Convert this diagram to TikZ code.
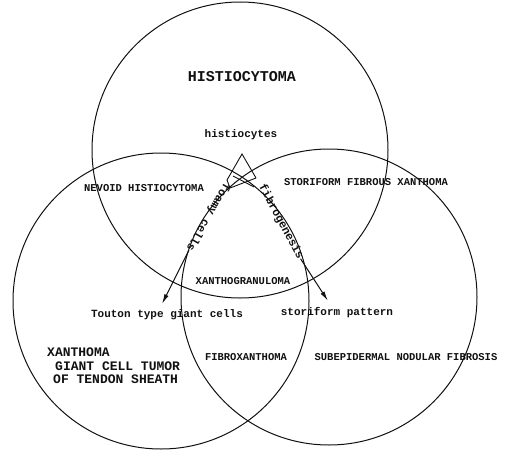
\documentclass[tikz,border=0pt]{standalone}
\usepackage{fontspec}
\setmonofont{Liberation Mono}
\usetikzlibrary{positioning,arrows.meta,calc}
\definecolor{cInk}{HTML}{111111}
\tikzset{
  ring/.style={draw=cInk, line width=1pt},
  titleLbl/.style={font=\ttfamily\bfseries\fontsize{15}{17}\selectfont, text=cInk, inner sep=0pt},
  zoneLbl/.style={font=\ttfamily\bfseries\fontsize{10.5}{12}\selectfont, text=cInk, inner sep=0pt},
  cellLbl/.style={font=\ttfamily\bfseries\fontsize{11}{13}\selectfont, text=cInk, inner sep=0pt},
  bigLbl/.style={font=\ttfamily\bfseries\fontsize{13}{15}\selectfont, text=cInk, inner sep=0pt, anchor=west},
  pathLbl/.style={font=\ttfamily\bfseries\fontsize{11.5}{13}\selectfont, text=cInk, inner sep=0pt},
  flow/.style={-{Latex[length=10pt,width=4.5pt]}, line width=1pt, draw=cInk},
  tick/.style={line width=0.9pt, draw=cInk},
}
\begin{document}
\begin{tikzpicture}[x=1pt,y=-1pt]
\useasboundingbox (0,0) rectangle (506,455);

% ========== THE THREE CIRCLES ==========
\coordinate (cTop)   at (240,150);
\coordinate (cLeft)  at (161,301);
\coordinate (cRight) at (329,297);
\draw[ring] (cTop)   circle[radius=148];
\draw[ring] (cLeft)  circle[radius=148];
\draw[ring] (cRight) circle[radius=148];

% ========== REGION LABELS ==========
\node[titleLbl] (histio) at (242,77)  {HISTIOCYTOMA};
\node[cellLbl]  (cytes)  at (241,135) {histiocytes};
\node[zoneLbl]  (nevoid) at (144,188) {NEVOID HISTIOCYTOMA};
\node[zoneLbl]  (storFx) at (366,182) {STORIFORM FIBROUS XANTHOMA};
\node[zoneLbl]  (xgran)  at (243,281) {XANTHOGRANULOMA};
\node[cellLbl]  (touton) at (167,315) {Touton type giant cells};
\node[cellLbl]  (storPat) at (337,313) {storiform pattern};
\node[zoneLbl]  (fibrox) at (246,357) {FIBROXANTHOMA};
\node[zoneLbl]  (subep)  at (406,357) {SUBEPIDERMAL NODULAR FIBROSIS};

\node[bigLbl] (xanth)  at (47,352) {XANTHOMA};
\node[bigLbl] (gct)    at (55,366) {GIANT CELL TUMOR};
\node[bigLbl] (tendon) at (53,379) {OF TENDON SHEATH};

% ========== BRANCHING FROM HISTIOCYTES ==========
\coordinate (apex)   at (242,154);
\coordinate (legL)   at (227,180);
\coordinate (legR)   at (256,178);
\coordinate (notchL) at (230,188);
\coordinate (barA)   at (233,176);
\coordinate (barB)   at (254,187);
\draw[tick] (legL) -- (apex) -- (legR);
\draw[tick] (legL) -- (notchL) -- (legR);
\draw[tick] (barA) -- (barB);

\node[pathLbl, rotate=240] (foamy) at (208,217) {foamy cells};
\node[pathLbl, rotate=-62] (fibro) at (281,222) {fibrogenesis};

\coordinate (tipL) at (162,304);
\coordinate (tipR) at (328,301);
\draw[flow] (foamy.east) -- (tipL);
\draw[flow] (fibro.east) -- (tipR);

\end{tikzpicture}
\end{document}
